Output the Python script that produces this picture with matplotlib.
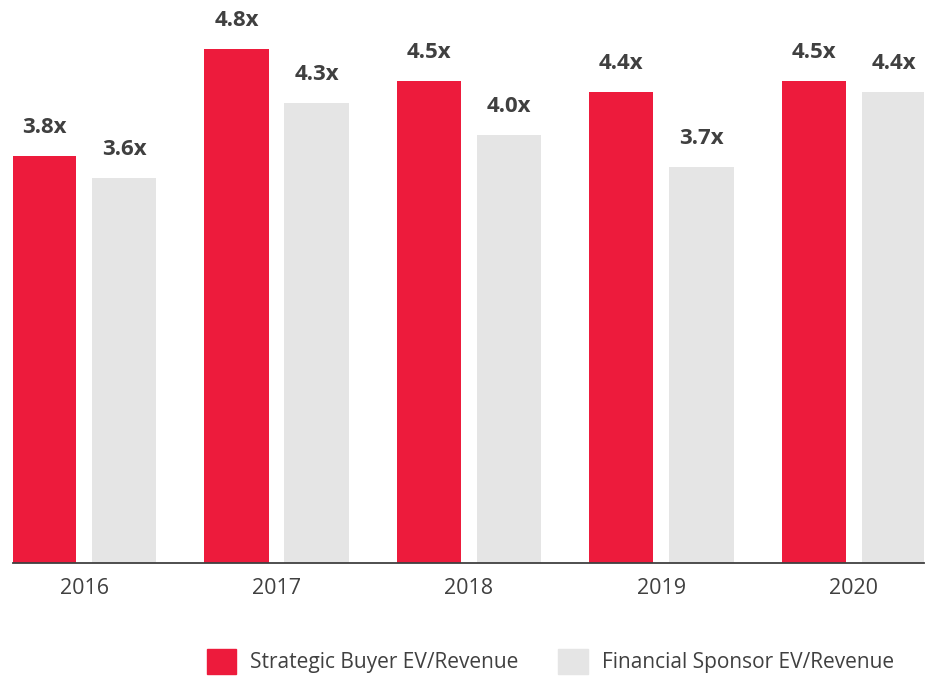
import matplotlib.pyplot as plt
import numpy as np
from matplotlib.patches import Patch

plt.rcParams['font.family'] = ['Open Sans', 'DejaVu Sans']

# Dados
anos = ['2016', '2017', '2018', '2019', '2020']
estrategico = [3.8, 4.8, 4.5, 4.4, 4.5]
financeiro = [3.6, 4.3, 4.0, 3.7, 4.4]

cor_vermelho = '#ED1B3C'
cor_cinza = '#E5E5E5'
cor_texto = '#404040'

x = np.arange(len(anos))
largura = 0.333
desloc = 0.208

fig = plt.figure(figsize=(9.35, 6.79), dpi=100)
ax = fig.add_axes([0.0139, 0.1708, 0.9743, 0.8292])

b1 = ax.bar(x - desloc, estrategico, largura, color=cor_vermelho)
b2 = ax.bar(x + desloc, financeiro, largura, color=cor_cinza)

# rótulos de valor
for barras in (b1, b2):
    for b in barras:
        ax.annotate(f'{b.get_height():.1f}x',
                    (b.get_x() + b.get_width() / 2, b.get_height()),
                    xytext=(0, 13), textcoords='offset points',
                    ha='center', va='bottom', fontsize=16,
                    fontweight='bold', color=cor_texto)

ax.set_xlim(-0.369, 4.364)
ax.set_ylim(0, 5.26)
ax.set_xticks(x)
ax.set_xticklabels(anos, fontsize=15.5, color=cor_texto)
ax.tick_params(axis='x', length=0, pad=11)
ax.set_yticks([])
for lado in ['top', 'right', 'left']:
    ax.spines[lado].set_visible(False)
ax.spines['bottom'].set_color(cor_texto)
ax.spines['bottom'].set_linewidth(1.3)

# legenda
handles = [Patch(color=cor_vermelho), Patch(color=cor_cinza)]
fig.legend(handles, ['Strategic Buyer EV/Revenue', 'Financial Sponsor EV/Revenue'],
           loc='lower right', bbox_to_anchor=(0.972, -0.014), ncol=2, frameon=False,
           fontsize=15, labelcolor=cor_texto, handlelength=1.4, handleheight=1.45,
           handletextpad=0.7, columnspacing=1.9, borderpad=0.2)

fig.savefig('out.png', dpi=100)
